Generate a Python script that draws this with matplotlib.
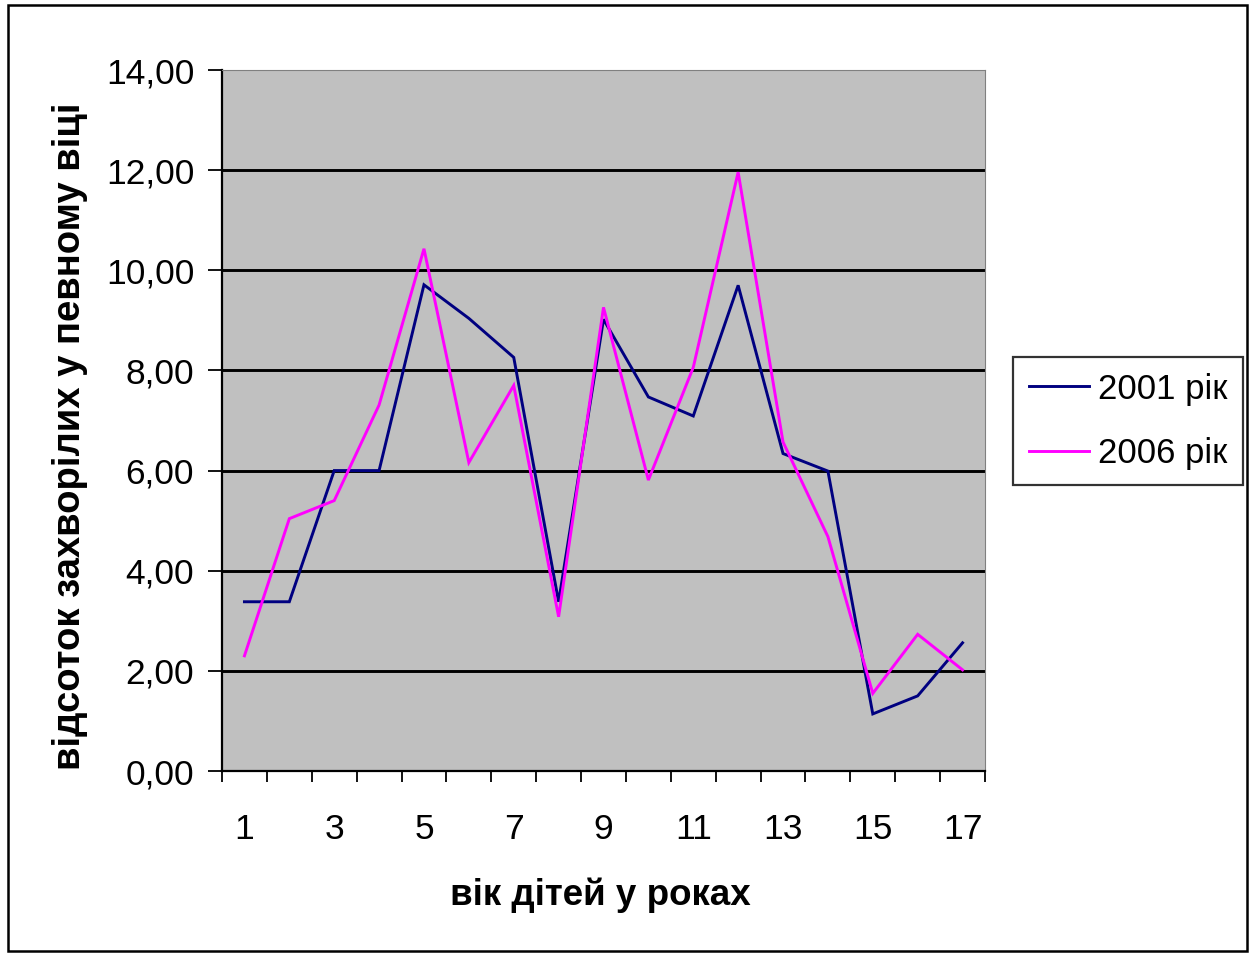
import matplotlib
matplotlib.use("Agg")
import matplotlib.pyplot as plt
from matplotlib.patches import Rectangle
from matplotlib.ticker import FuncFormatter

plt.rcParams['font.family'] = ['Liberation Sans', 'DejaVu Sans']

ages = list(range(1, 18))
series_names = ["2001 рік", "2006 рік"]
values_2001 = [3.38, 3.38, 6.00, 6.00, 9.71, 9.04, 8.26, 3.38, 9.02, 7.47, 7.09, 9.70, 6.34, 5.99, 1.14, 1.50, 2.56]
values_2006 = [2.30, 5.04, 5.40, 7.31, 10.43, 6.16, 7.70, 3.08, 9.26, 5.81, 8.06, 11.96, 6.57, 4.68, 1.55, 2.73, 2.02]
colors = ["#000080", "#FF00FF"]
x_label = "вік дітей у роках"
y_label = "відсоток захворілих у певному віці"
y_ticks = [0, 2, 4, 6, 8, 10, 12, 14]

W, H = 1251, 955
fig = plt.figure(figsize=(W / 100, H / 100), dpi=100)
ax = fig.add_axes([222 / W, 1 - 771 / H, (985 - 222) / W, (771 - 70) / H])
ax.set_facecolor("#C0C0C0")

for vals, c, name in zip([values_2001, values_2006], colors, series_names):
    ax.plot(ages, vals, color=c, lw=2.1, label=name, solid_joinstyle='miter', zorder=3)

ax.set_xlim(0.5, 17.5)
ax.set_ylim(0, 14)
ax.set_yticks(y_ticks)
ax.yaxis.set_major_formatter(FuncFormatter(lambda v, p: f"{v:.2f}".replace(".", ",")))
for y in y_ticks[1:-1]:
    ax.axhline(y, color="black", lw=2.1, zorder=1)

# category boundary ticks, labels at centers for odd categories
ax.set_xticks([a - 0.5 for a in ages] + [17.5])
ax.set_xticklabels([])
ax.set_xticks([a for a in ages if a % 2 == 1], minor=True)
ax.set_xticklabels([str(a) for a in ages if a % 2 == 1], minor=True)
ax.tick_params(axis='x', which='major', direction='out', length=8, width=1.3, color='black')
ax.tick_params(axis='x', which='minor', length=0, pad=30, labelsize=25.5)
ax.tick_params(axis='y', direction='out', length=10, width=1.3, pad=10, labelsize=25.5)

ax.spines['left'].set_color('black')
ax.spines['bottom'].set_color('black')
ax.spines['left'].set_linewidth(1.6)
ax.spines['bottom'].set_linewidth(1.6)
ax.spines['top'].set_color('#808080')
ax.spines['right'].set_color('#808080')

fig.text(600 / W, 1 - 895 / H, x_label, ha='center', va='center', fontsize=26.5, fontweight='bold')
fig.text(70 / W, 1 - 436 / H, y_label, ha='center', va='center', rotation=90, fontsize=27.5, fontweight='bold')

leg = ax.legend(loc='upper left', bbox_to_anchor=(1013 / W, 1 - 357 / H), bbox_transform=fig.transFigure,
                frameon=True, fancybox=False, edgecolor='black', fontsize=25, handlelength=1.75,
                handletextpad=0.25, borderpad=0.45, labelspacing=0.9, borderaxespad=0)
leg.get_frame().set_linewidth(1.6)
for l in leg.get_lines():
    l.set_linewidth(2.1)

fig.patches.append(Rectangle((8 / W, 4 / H), (1247 - 8) / W, (950 - 4) / H, transform=fig.transFigure,
                             fill=False, edgecolor='black', lw=1.8))

fig.savefig("out.png", dpi=100)
